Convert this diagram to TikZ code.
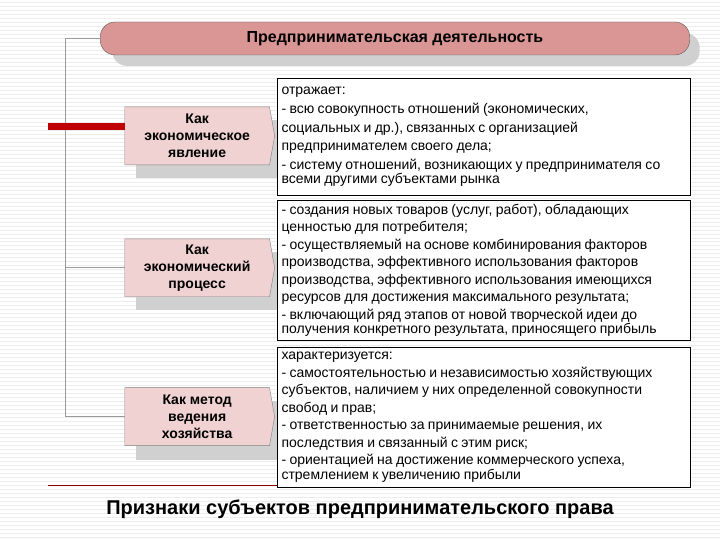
\documentclass[tikz,border=0pt]{standalone}
\usepackage{fontspec}
\setmainfont{Liberation Sans}
\usetikzlibrary{shapes.symbols}
\definecolor{titlefill}{HTML}{D99694}
\definecolor{leftfill}{HTML}{F0D2D2}
\definecolor{redbar}{HTML}{C00000}
\definecolor{shadowc}{HTML}{D0D0D0}
\begin{document}
\begin{tikzpicture}[x=1pt,y=-1pt,
  titlebox/.style={draw=gray!70!black, fill=titlefill, rounded corners=15pt, minimum width=590pt, minimum height=33pt, font=\bfseries\fontsize{16}{19}\selectfont},
  leftbox/.style={draw=gray, fill=leftfill, signal, signal to=east, signal pointer angle=160, minimum width=150pt, minimum height=58pt, align=center, font=\bfseries\fontsize{14}{17}\selectfont, inner sep=1pt},
  rightbox/.style={draw=black, line width=1pt, fill=white, text width=405pt, align=left, inner xsep=4pt, inner ysep=1pt},
  tree/.style={draw=gray!80, line width=0.8pt}]
\fill[white] (0,0) rectangle (720,540);
\foreach \yy in {2,6,...,538} \draw[black!7, line width=0.6pt] (0,\yy) -- (720,\yy);
% title
\fill[shadowc, rounded corners=15pt] (112,33) rectangle (700,66);
\node[titlebox] (title) at (395,38.5) {Предпринимательская деятельность};
% left boxes shadows
\fill[shadowc] (136,120) rectangle (286,178);
\fill[shadowc] (136,252) rectangle (286,310);
\fill[shadowc] (136,401) rectangle (286,460);
\node[leftbox] (l1) at (197,136) {Как\\экономическое\\явление};
\node[leftbox] (l2) at (197,268) {Как\\экономический\\процесс};
\node[leftbox] (l3) at (197,417) {Как метод\\ведения\\хозяйства};
% tree
\coordinate (t0) at (65,38.5);
\coordinate (t1) at (65,127);
\coordinate (t2) at (65,268);
\coordinate (t3) at (65,417);
\draw[tree] (title.west) -- (t0) -- (t3) -- (l3.west);
\draw[tree] (t2) -- (l2.west);
\coordinate (rb) at (48,127);
\draw[redbar, line width=7pt] (rb) -- (l1.west |- rb);
% right boxes
\node[rightbox, anchor=north west, minimum height=117pt] (r1) at (277,78) {\fontsize{14}{18.7}\selectfont отражает:\\- всю совокупность отношений (экономических,\\социальных и др.), связанных с организацией\\предпринимателем своего дела;\\- систему отношений, возникающих у предпринимателя со\\всеми другими субъектами рынка};
\node[rightbox, anchor=north west, minimum height=140pt] (r2) at (277,200) {\fontsize{14}{17.5}\selectfont - создания новых товаров (услуг, работ), обладающих\\ценностью для потребителя;\\- осуществляемый на основе комбинирования факторов\\производства, эффективного использования факторов\\производства, эффективного использования имеющихся\\ресурсов для достижения максимального результата;\\- включающий ряд этапов от новой творческой идеи до\\получения конкретного результата, приносящего прибыль};
\node[rightbox, anchor=north west, minimum height=140pt] (r3) at (277,347) {\fontsize{14}{17.5}\selectfont характеризуется:\\- самостоятельностью и независимостью хозяйствующих\\субъектов, наличием у них определенной совокупности\\свобод и прав;\\- ответственностью за принимаемые решения, их\\последствия и связанный с этим риск;\\- ориентацией на достижение коммерческого успеха,\\стремлением к увеличению прибыли};
% bottom
\coordinate (bl) at (48,486);
\coordinate (br) at (277,486);
\draw[redbar!70!black, line width=0.8pt] (bl) -- (br);
\node[font=\bfseries\fontsize{20}{24}\selectfont] (cap) at (360,510) {Признаки субъектов предпринимательского права};
\end{tikzpicture}
\end{document}
